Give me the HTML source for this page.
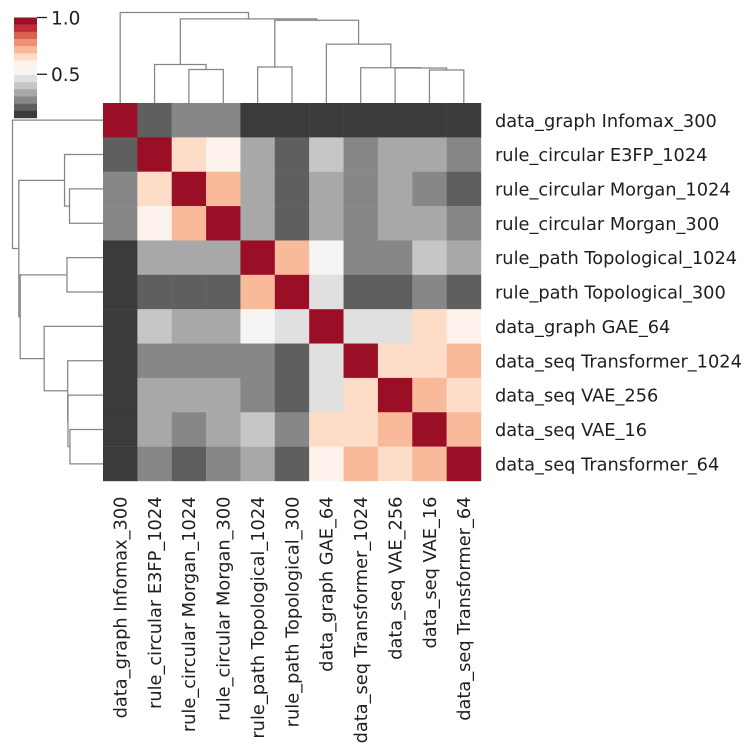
<!DOCTYPE html>
<html>
<head>
<meta charset="utf-8">
<title>Clustered similarity heatmap</title>
<style>
html,body{margin:0;padding:0;background:#fff;width:750px;height:750px;overflow:hidden}
svg{display:block}
text{font-family:"DejaVu Sans",sans-serif;fill:#1f1f1f}
</style>
</head>
<body>
<svg id="chart" xmlns="http://www.w3.org/2000/svg" width="750" height="750" viewBox="0 0 750 750"></svg>
<script>
// ---- data ----
const labels = [
  "data_graph Infomax_300","rule_circular E3FP_1024","rule_circular Morgan_1024",
  "rule_circular Morgan_300","rule_path Topological_1024","rule_path Topological_300",
  "data_graph GAE_64","data_seq Transformer_1024","data_seq VAE_256","data_seq VAE_16",
  "data_seq Transformer_64"
];
const matrixValues = [
  [1.00,0.19,0.25,0.25,0.12,0.12,0.12,0.12,0.12,0.12,0.12],
  [0.19,1.00,0.64,0.58,0.32,0.19,0.38,0.25,0.32,0.32,0.25],
  [0.25,0.64,1.00,0.71,0.32,0.19,0.32,0.25,0.32,0.25,0.19],
  [0.25,0.58,0.71,1.00,0.32,0.19,0.32,0.25,0.32,0.32,0.25],
  [0.12,0.32,0.32,0.32,1.00,0.71,0.51,0.25,0.25,0.38,0.32],
  [0.12,0.19,0.19,0.19,0.71,1.00,0.45,0.19,0.19,0.25,0.19],
  [0.12,0.38,0.32,0.32,0.51,0.45,1.00,0.45,0.45,0.64,0.58],
  [0.12,0.25,0.25,0.25,0.25,0.19,0.45,1.00,0.64,0.64,0.71],
  [0.12,0.32,0.32,0.32,0.25,0.19,0.45,0.64,1.00,0.71,0.64],
  [0.12,0.32,0.25,0.32,0.38,0.25,0.64,0.64,0.71,1.00,0.71],
  [0.12,0.25,0.19,0.25,0.32,0.19,0.58,0.71,0.64,0.71,1.00]
];
// linkage: [childA, childB, height]; ids 0-10 are leaves, 11+ are earlier merges
const linkage = [
  [9,10,0.365],
  [2,3,0.370],
  [4,5,0.398],
  [8,11,0.387],
  [7,14,0.390],
  [1,12,0.425],
  [6,15,0.650],
  [13,17,0.915],
  [16,18,0.930],
  [0,19,1.000]
];
const colorLevels = ["#9b0f26","#bd2e38","#d8614f","#ee9273","#f8ba9b","#fddcc8","#fef3ec",
  "#f6f5f4","#e0e0e0","#c6c6c6","#a8a8a8","#878787","#5f5f5f","#3b3b3b"];
const colorTicks = [1.0,0.5];
const valueMin = 0.115;
const valueMax = 1.0;

// ---- layout + axis functions ----
const svg = document.getElementById('chart');
const NS = 'http://www.w3.org/2000/svg';
const heatLeft = 103, heatTop = 103, heatSize = 378;
const cell = heatSize / labels.length;
const dendroReach = 90.5;
const barX = 14, barW = 23, barTop = 17.5, barH = 100.5;

const xPos = i => heatLeft + cell * i;
const yPos = i => heatTop + cell * i;
const heightOffset = h => h * dendroReach;
const colorbarY = v => barTop + (valueMax - v) / (valueMax - valueMin) * barH;
function colorFor(v) {
  const n = colorLevels.length;
  let idx = Math.floor((valueMax - v) / (valueMax - valueMin) * n);
  idx = Math.max(0, Math.min(n - 1, idx));
  return colorLevels[idx];
}
function make(tag, attrs, parent) {
  const el = document.createElementNS(NS, tag);
  for (const k in attrs) el.setAttribute(k, attrs[k]);
  parent.appendChild(el);
  return el;
}

// ---- heatmap ----
const heatGroup = make('g', {}, svg);


matrixValues.forEach((row, r) => row.forEach((v, c) => {
  const rect = make('rect', {x: xPos(c), y: yPos(r), width: cell + 0.2, height: cell + 0.2, fill: colorFor(v)}, heatGroup);
  
  
}));

// ---- dendrograms ----
function drawDendrogram(name, toXY) {
  const g = make('g', {fill: 'none', stroke: '#858585', 'stroke-width': 1.25}, svg);
  
  
  const nodes = labels.map((_, i) => ({pos: i + 0.5, h: 0}));
  linkage.forEach(m => {
    const a = nodes[m[0]], b = nodes[m[1]], h = m[2];
    const pts = [toXY(a.pos, a.h), toXY(a.pos, h), toXY(b.pos, h), toXY(b.pos, b.h)];
    const line = make('polyline', {points: pts.map(p => p.join(',')).join(' ')}, g);
    
    
    nodes.push({pos: (a.pos + b.pos) / 2, h: h});
  });
}
drawDendrogram('column-dendrogram', (p, h) => [xPos(p), heatTop - heightOffset(h)]);
drawDendrogram('row-dendrogram', (p, h) => [heatLeft - heightOffset(h), yPos(p)]);

// ---- tick labels ----
labels.forEach((t, i) => {
  const rowLabel = make('text', {x: 495, y: yPos(i + 0.5) + 6.6, 'font-size': 17.8}, svg);
  rowLabel.textContent = t;
  
  
  const cx = xPos(i + 0.5) + 6.3, cy = 496.5;
  const colLabel = make('text', {x: cx, y: cy, 'font-size': 17.8, 'text-anchor': 'end', transform: `rotate(-90 ${cx} ${cy})`}, svg);
  colLabel.textContent = t;
  
  
});

// ---- colorbar ----
const barGroup = make('g', {}, svg);


colorLevels.forEach((c, i) => {
  const segH = barH / colorLevels.length;
  const seg = make('rect', {x: barX, y: barTop + i * segH, width: barW, height: segH + 0.2, fill: c}, barGroup);
  
  
});
colorTicks.forEach(v => {
  const y = colorbarY(v);
  const tick = make('line', {x1: barX + barW, x2: barX + barW + 10, y1: y, y2: y, stroke: '#1f1f1f', 'stroke-width': 1.3}, barGroup);
  
  
  const lab = make('text', {x: 51, y: y + 6.8, 'font-size': 18.5}, barGroup);
  lab.textContent = v.toFixed(1);
  
  
});
</script>
</body>
</html>
